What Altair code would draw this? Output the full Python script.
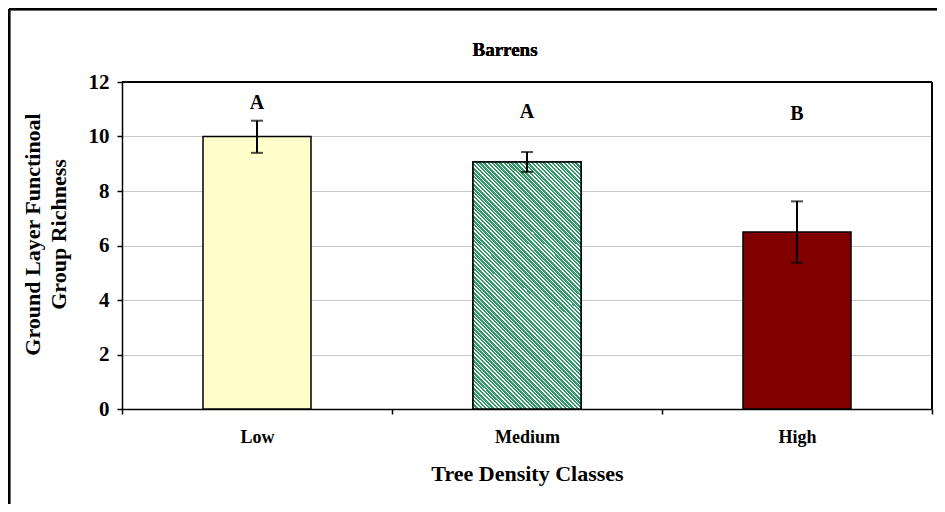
import altair as alt
import pandas as pd

# ---- data ----
chart_title = "Barrens"
classes = ["Low", "Medium", "High"]
means = [10.0, 9.06, 6.5]
err_low = [9.4, 8.7, 5.37]
err_high = [10.58, 9.43, 7.62]
letters = ["A", "A", "B"]
letter_y = [11.23, 10.9, 10.83]
fill_colors = ["#FFFFCC", "#FFFFFF", "#800000"]
y_ticks = [0, 2, 4, 6, 8, 10, 12]

df = pd.DataFrame({
    "cls": classes,
    "mean": means,
    "lo": err_low,
    "hi": err_high,
    "letter": letters,
    "ly": letter_y,
})

FONT = "Liberation Serif"
W, H = 810, 327
YMAX = 12
BAND = 0.4

# ---- hatched (\\\\) fill for the Medium bar as a striped linear gradient ----
bw = W / len(classes) * BAND
bh = means[1] / YMAX * H
k = (bw + bh) / (bw ** 2 + bh ** 2)
period = 4.0
green_frac = 0.55
span = bw + bh
pt = period / span
stops = []
i = 0
while i * pt < 1:
    s = i * pt
    m = min(1.0, s + pt * green_frac)
    e = min(1.0, s + pt)
    stops += [
        {"offset": round(s, 6), "color": "#339966"},
        {"offset": round(m, 6), "color": "#339966"},
        {"offset": round(m, 6), "color": "#FFFFFF"},
        {"offset": round(e, 6), "color": "#FFFFFF"},
    ]
    i += 1
hatch = {
    "gradient": "linear",
    "x1": 0, "y1": 1,
    "x2": round(k * bw, 6), "y2": round(1 - k * bh, 6),
    "stops": stops,
}

x_enc = alt.X(
    "cls:N",
    sort=classes,
    scale=alt.Scale(paddingInner=0, paddingOuter=0),
    axis=alt.Axis(
        title="Tree Density Classes",
        labelAngle=0,
        tickBand="extent",
        tickSize=5,
        tickColor="black",
        tickWidth=1.5,
        domainColor="black",
        domainWidth=1.5,
        grid=False,
        labelFont=FONT,
        labelFontSize=18,
        labelFontWeight="bold",
        labelColor="black",
        labelBaseline="middle",
        labelPadding=23,
        titleFont=FONT,
        titleFontSize=22,
        titleFontWeight="bold",
        titleColor="black",
        titleBaseline="middle",
        titleY=64,
    ),
)

y_scale = alt.Scale(domain=[0, YMAX], nice=False)
y_axis = alt.Axis(
    title=["Ground Layer Functinoal", "Group Richness"],
    values=y_ticks,
    grid=True,
    gridColor="#c8c8c8",
    gridWidth=1,
    tickSize=5,
    tickColor="black",
    tickWidth=1.5,
    domainColor="black",
    domainWidth=1.5,
    labelFont=FONT,
    labelFontSize=21,
    labelFontWeight="bold",
    labelColor="black",
    labelPadding=8,
    titleFont=FONT,
    titleFontSize=22,
    titleFontWeight="bold",
    titleColor="black",
    titleAngle=-90,
    titleBaseline="middle",
    titleLineHeight=26,
    titleX=-90,
    titleY=152,
)

base = alt.Chart(df)

bars = base.mark_bar(stroke="black", strokeWidth=1.5, width={"band": BAND}).encode(
    x=x_enc,
    y=alt.Y("mean:Q", scale=y_scale, axis=y_axis),
    fill=alt.Fill("cls:N", scale=alt.Scale(domain=classes, range=fill_colors), legend=None),
)

hatched = base.transform_filter(alt.datum.cls == "Medium").mark_bar(
    stroke="black", strokeWidth=1.5, width={"band": BAND}, fill=hatch
).encode(
    x=alt.X("cls:N", sort=classes),
    y=alt.Y("mean:Q"),
)

err_rule = base.mark_rule(color="black", strokeWidth=2).encode(
    x=alt.X("cls:N", sort=classes),
    y=alt.Y("lo:Q"),
    y2="hi:Q",
)
cap_lo = base.mark_tick(color="black", thickness=2, size=12).encode(
    x=alt.X("cls:N", sort=classes), y=alt.Y("lo:Q")
)
cap_hi = base.mark_tick(color="black", thickness=2, size=12).encode(
    x=alt.X("cls:N", sort=classes), y=alt.Y("hi:Q")
)

letter_text = base.mark_text(
    font=FONT, fontSize=20, fontWeight="bold", color="black", baseline="middle"
).encode(
    x=alt.X("cls:N", sort=classes),
    y=alt.Y("ly:Q"),
    text="letter:N",
)

title_text = base.mark_text(
    font=FONT, fontSize=19, fontWeight="bold", color="black",
    baseline="middle", align="center",
).encode(
    x=alt.value(383), y=alt.value(-32), text=alt.value(chart_title)
)

# plot frame (top and right) and outer chart frame
top_border = base.mark_rule(color="black", strokeWidth=1.5).encode(
    x=alt.value(0), x2=alt.value(W), y=alt.value(0)
)
right_border = base.mark_rule(color="black", strokeWidth=1.5).encode(
    x=alt.value(W), y=alt.value(0), y2=alt.value(H)
)
outer_left = base.mark_rule(color="black", strokeWidth=2.5).encode(
    x=alt.value(-113), y=alt.value(-73), y2=alt.value(H + 100)
)
outer_top = base.mark_rule(color="black", strokeWidth=2.5).encode(
    x=alt.value(-113), x2=alt.value(W + 10), y=alt.value(-73)
)

chart = alt.layer(
    bars, hatched, err_rule, cap_lo, cap_hi, letter_text, title_text,
    top_border, right_border, outer_left, outer_top,
).properties(
    width=W,
    height=H,
    autosize=alt.AutoSizeParams(type="none"),
    padding={"left": 114, "top": 74, "right": 5, "bottom": 95},
    background="white",
).configure_view(stroke=None)

chart.save("out.html", embed_options={"renderer": "svg", "actions": False})
